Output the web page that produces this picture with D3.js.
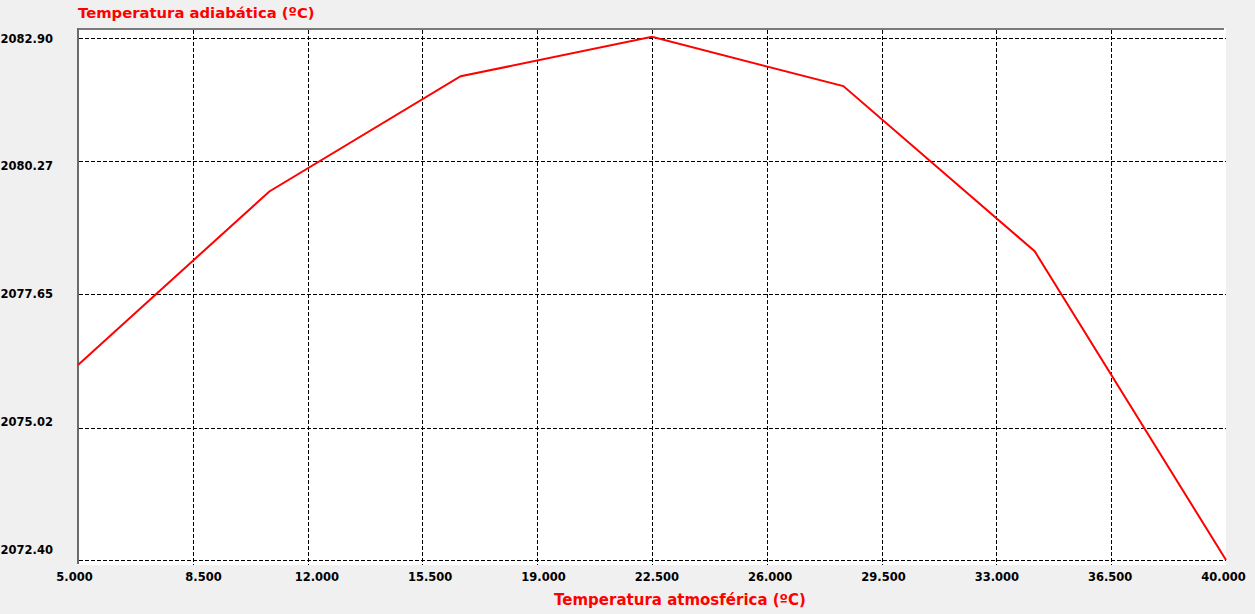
<!DOCTYPE html>
<html>
<head>
<meta charset="utf-8">
<script src="https://cdn.jsdelivr.net/npm/d3@7"></script>
<style>
  html, body { margin: 0; padding: 0; background: #f0f0f0; }
  svg { display: block; }
  text { font-family: "DejaVu Sans", sans-serif; }
</style>
</head>
<body>
<script>
// ---- data ----
const xValues = [5, 10.8333, 16.6667, 22.5, 28.3333, 34.1667, 40];
const yValues = [2076.26, 2079.68, 2082.09, 2082.93, 2081.88, 2078.50, 2072.40];

const xTickValues = [5, 8.5, 12, 15.5, 19, 22.5, 26, 29.5, 33, 36.5, 40];
const xTickLabels = ["5.000", "8.500", "12.000", "15.500", "19.000", "22.500", "26.000", "29.500", "33.000", "36.500", "40.000"];
const yTickValues = [2072.40, 2075.025, 2077.65, 2080.275, 2082.90];
const yTickLabels = ["2072.40", "2075.02", "2077.65", "2080.27", "2082.90"];

const yTitle = "Temperatura adiabática (ºC)";
const xTitle = "Temperatura atmosférica (ºC)";

// ---- layout ----
const W = 1255, H = 614;
const plot = { left: 77, top: 28, right: 1226, bottom: 565 };

const svg = d3.select("body").append("svg").attr("width", W).attr("height", H);

const x = d3.scaleLinear().domain([5, 40]).range([78, 1226]);
// grid positions as drawn by the original software
const y = d3.scaleLinear().domain(yTickValues).range([560, 427.7, 294.3, 161.3, 38.3]);
// label positions (evenly spaced in the original)
const yLab = d3.scaleLinear().domain([2072.40, 2082.90]).range([549.5, 38]);
const xLab = d3.scaleLinear().domain([5, 8.5, 40]).range([74.5, 203.5, 1223.5]);

// plot background
svg.append("rect")
  .attr("x", plot.left).attr("y", plot.top)
  .attr("width", plot.right - plot.left).attr("height", plot.bottom - plot.top)
  .attr("fill", "#ffffff");

// grid
const grid = svg.append("g").attr("stroke", "#000").attr("stroke-width", 1)
  .attr("stroke-dasharray", "4,2").attr("shape-rendering", "crispEdges");
grid.selectAll("line.h").data(yTickValues).join("line").attr("class", "h")
  .attr("x1", 79).attr("x2", plot.right)
  .attr("y1", d => Math.round(y(d)) + 0.5).attr("y2", d => Math.round(y(d)) + 0.5);
grid.selectAll("line.v").data(xTickValues.slice(1, -1)).join("line").attr("class", "v")
  .attr("x1", d => Math.round(x(d)) + 0.5).attr("x2", d => Math.round(x(d)) + 0.5)
  .attr("y1", 30).attr("y2", plot.bottom);

// border (sunken look: top & left)
svg.append("rect").attr("x", plot.left).attr("y", plot.top)
  .attr("width", plot.right - 2 - plot.left).attr("height", 2).attr("fill", "#7a7a7a");
svg.append("rect").attr("x", plot.left).attr("y", plot.top)
  .attr("width", 2).attr("height", plot.bottom - 1 - plot.top).attr("fill", "#6a6a6a");

// data line
const pts = xValues.map((v, i) => [v, yValues[i]]);
svg.append("path")
  .datum(pts)
  .attr("fill", "none")
  .attr("stroke", "#ff0000")
  .attr("stroke-width", 2)
  .attr("d", d3.line().x(d => x(d[0])).y(d => y(d[1])));

// y tick labels
svg.append("g").selectAll("text").data(yTickValues).join("text")
  .attr("x", 53).attr("y", d => yLab(d) + 4.5)
  .attr("text-anchor", "end")
  .attr("font-size", "11.5px").attr("font-weight", "bold").attr("fill", "#000")
  .text((d, i) => yTickLabels[i]);

// x tick labels
svg.append("g").selectAll("text").data(xTickValues).join("text")
  .attr("x", d => xLab(d)).attr("y", 581)
  .attr("text-anchor", "middle")
  .attr("font-size", "11.5px").attr("font-weight", "bold").attr("fill", "#000")
  .text((d, i) => xTickLabels[i]);

// titles
svg.append("text").attr("x", 78).attr("y", 18)
  .attr("font-size", "14.8px").attr("font-weight", "bold").attr("fill", "#ff0000")
  .text(yTitle);
svg.append("text").attr("x", 680).attr("y", 605)
  .attr("text-anchor", "middle")
  .attr("font-size", "15px").attr("font-weight", "bold").attr("fill", "#ff0000")
  .text(xTitle);
</script>
</body>
</html>
